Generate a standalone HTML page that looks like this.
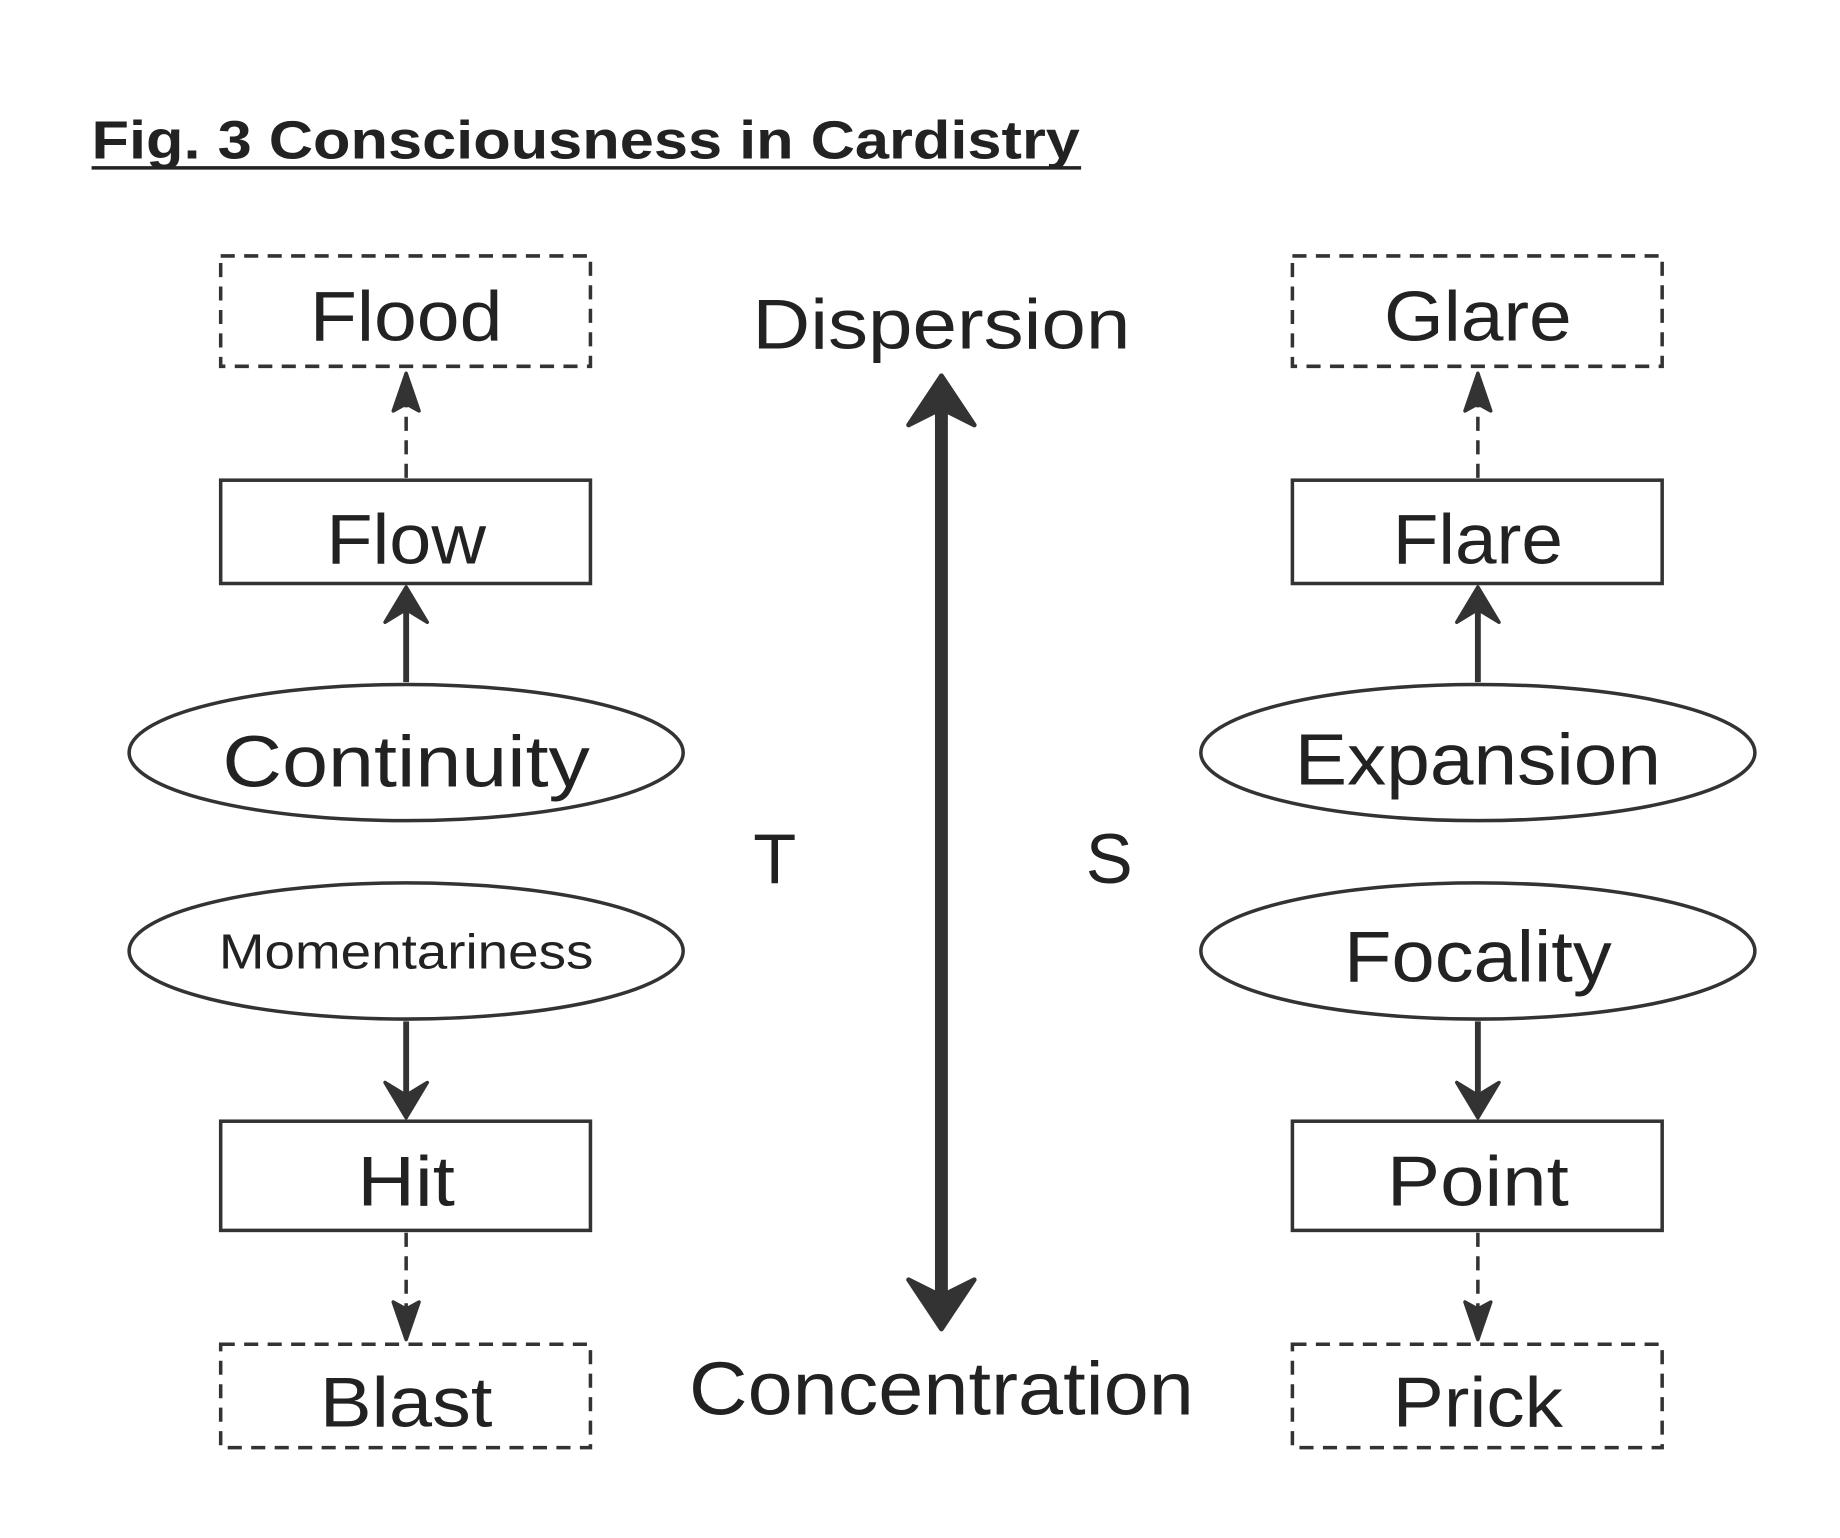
<!DOCTYPE html>
<html><head><meta charset="utf-8"><style>
html,body{margin:0;padding:0;background:#fff;}
svg{display:block;}
text{font-family:"Liberation Sans","DejaVu Sans",sans-serif;fill:#222;}
</style></head><body>
<svg width="1840" height="1538" viewBox="0 0 1567.5 1310" preserveAspectRatio="none" xmlns="http://www.w3.org/2000/svg">
<text x="78" y="135" font-size="46" font-weight="bold" textLength="842" lengthAdjust="spacingAndGlyphs">Fig. 3 Consciousness in Cardistry</text>
<line x1="78" y1="143" x2="921" y2="143" stroke="#222" stroke-width="3"/>
<g fill="none" stroke="#333" stroke-width="3">
<rect x="188" y="218" width="315" height="94" stroke-dasharray="12 8"/>
<rect x="188" y="409" width="315" height="88"/>
<ellipse cx="346" cy="641" rx="236" ry="58"/>
<ellipse cx="346" cy="810" rx="236" ry="58"/>
<rect x="188" y="955" width="315" height="93"/>
<rect x="188" y="1145" width="315" height="88" stroke-dasharray="12 8"/>
<rect x="1101" y="218" width="315" height="94" stroke-dasharray="12 8"/>
<rect x="1101" y="409" width="315" height="88"/>
<ellipse cx="1259" cy="641" rx="236" ry="58"/>
<ellipse cx="1259" cy="810" rx="236" ry="58"/>
<rect x="1101" y="955" width="315" height="93"/>
<rect x="1101" y="1145" width="315" height="88" stroke-dasharray="12 8"/>
</g>
<g stroke="#333" fill="none">
<line x1="346" y1="407" x2="346" y2="340" stroke-width="3" stroke-dasharray="12 8"/>
<line x1="346" y1="581" x2="346" y2="510" stroke-width="5"/>
<line x1="346" y1="870" x2="346" y2="940" stroke-width="5"/>
<line x1="346" y1="1050" x2="346" y2="1118" stroke-width="3" stroke-dasharray="12 8"/>
<line x1="1259" y1="407" x2="1259" y2="340" stroke-width="3" stroke-dasharray="12 8"/>
<line x1="1259" y1="581" x2="1259" y2="510" stroke-width="5"/>
<line x1="1259" y1="870" x2="1259" y2="940" stroke-width="5"/>
<line x1="1259" y1="1050" x2="1259" y2="1118" stroke-width="3" stroke-dasharray="12 8"/>
<line x1="802" y1="345" x2="802" y2="1105" stroke-width="11"/>
</g>
<g fill="#333" stroke="#333" stroke-width="3" stroke-linejoin="round">
<path d="M346,318 L357,350 L346,344 L335,350 z"/>
<path d="M1259,318 L1270,350 L1259,344 L1248,350 z"/>
<path d="M346,1141 L357,1109 L346,1115 L335,1109 z"/>
<path d="M1259,1141 L1270,1109 L1259,1115 L1248,1109 z"/>
<path d="M346,500 L364,530 L346,519 L328,530 z"/>
<path d="M1259,500 L1277,530 L1259,519 L1241,530 z"/>
<path d="M346,952 L364,922 L346,933 L328,922 z"/>
<path d="M1259,952 L1277,922 L1259,933 L1241,922 z"/>
<path d="M802,320 L830,362 L802,348 L774,362 z" stroke-width="4"/>
<path d="M802,1132 L830,1090 L802,1104 L774,1090 z" stroke-width="4"/>
</g>
<g text-anchor="middle" lengthAdjust="spacingAndGlyphs">
<text x="346" y="290" font-size="60" textLength="164" lengthAdjust="spacingAndGlyphs">Flood</text>
<text x="346" y="480" font-size="60" textLength="136" lengthAdjust="spacingAndGlyphs">Flow</text>
<text x="346" y="670" font-size="62" textLength="313" lengthAdjust="spacingAndGlyphs">Continuity</text>
<text x="346" y="825" font-size="42" textLength="319" lengthAdjust="spacingAndGlyphs">Momentariness</text>
<text x="346" y="1027" font-size="60" textLength="83" lengthAdjust="spacingAndGlyphs">Hit</text>
<text x="346" y="1215" font-size="60" textLength="147" lengthAdjust="spacingAndGlyphs">Blast</text>
<text x="1259" y="290" font-size="60" textLength="160" lengthAdjust="spacingAndGlyphs">Glare</text>
<text x="1259" y="480" font-size="60" textLength="145" lengthAdjust="spacingAndGlyphs">Flare</text>
<text x="1259" y="668" font-size="62" textLength="312" lengthAdjust="spacingAndGlyphs">Expansion</text>
<text x="1259" y="836" font-size="62" textLength="228" lengthAdjust="spacingAndGlyphs">Focality</text>
<text x="1259" y="1027" font-size="60" textLength="155" lengthAdjust="spacingAndGlyphs">Point</text>
<text x="1259" y="1215" font-size="60" textLength="145" lengthAdjust="spacingAndGlyphs">Prick</text>
<text x="802" y="297" font-size="60" textLength="322" lengthAdjust="spacingAndGlyphs">Dispersion</text>
<text x="802" y="1205" font-size="64" textLength="430" lengthAdjust="spacingAndGlyphs">Concentration</text>
<text x="660" y="752" font-size="60">T</text>
<text x="945" y="752" font-size="60">S</text>
</g>
</svg>
</body></html>
